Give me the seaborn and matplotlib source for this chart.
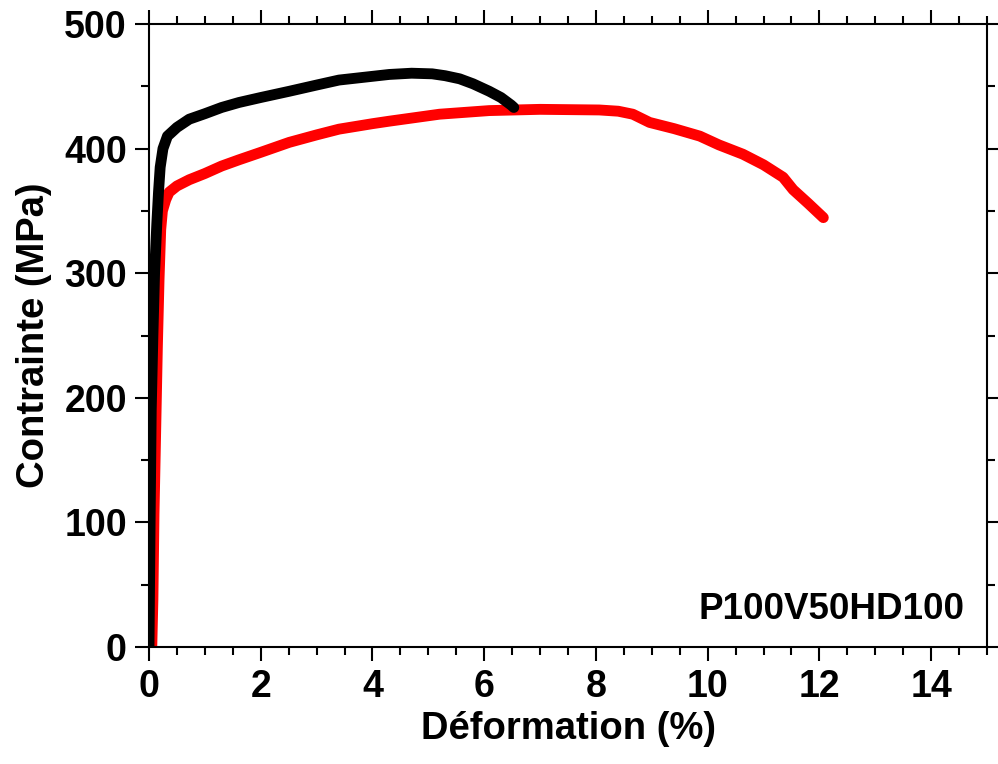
import matplotlib
matplotlib.use("Agg")
import matplotlib.pyplot as plt
import seaborn as sns
import pandas as pd
from matplotlib.ticker import MultipleLocator

# Data
black_x = [0.0, 0.02, 0.04, 0.07, 0.10, 0.14, 0.17, 0.20, 0.25, 0.33, 0.50, 0.72, 1.00,
           1.30, 1.61, 2.00, 2.51, 3.00, 3.40, 4.00, 4.30, 4.70, 5.07, 5.30, 5.56, 5.80,
           6.09, 6.30, 6.48, 6.53]
black_y = [0, 100, 190, 250, 300, 340, 365, 385, 400, 410, 417, 423.6, 428,
           433, 437, 441, 446, 451, 455, 458, 459.5, 460.5, 460, 458.5, 456, 452,
           446, 441, 435, 433]

red_x = [0.05, 0.07, 0.09, 0.12, 0.15, 0.18, 0.21, 0.24, 0.30, 0.36, 0.50, 0.72, 1.00,
         1.30, 1.61, 2.00, 2.51, 3.00, 3.40, 4.00, 4.30, 5.20, 6.09, 7.00, 8.06, 8.40,
         8.66, 8.96, 9.40, 9.86, 10.20, 10.63, 11.00, 11.35, 11.53, 11.80, 12.07]
red_y = [0, 38, 107, 174, 241, 295, 335, 350, 359, 365, 370, 375, 380,
         386, 391, 397, 405, 411, 415.6, 420, 422, 427.6, 430.5, 431.5, 431, 430,
         427.6, 421, 416, 410, 403, 395.5, 387, 377, 367, 356, 344.6]

x_ticks = [0, 2, 4, 6, 8, 10, 12, 14]
y_ticks = [0, 100, 200, 300, 400, 500]
x_label = "Déformation (%)"
y_label = "Contrainte (MPa)"
sample_label = "P100V50HD100"

sns.set_theme(style="white")
plt.rcParams['font.family'] = ['Liberation Sans', 'DejaVu Sans']
plt.rcParams['font.weight'] = 'bold'
plt.rcParams['text.color'] = 'black'
plt.rcParams['axes.labelcolor'] = 'black'
plt.rcParams['xtick.color'] = 'black'
plt.rcParams['ytick.color'] = 'black'

fig = plt.figure(figsize=(9.98, 7.64), dpi=100)
ax = fig.add_axes([0.1493, 0.1531, 0.8397, 0.8155])

df_red = pd.DataFrame({"x": red_x, "y": red_y})
df_black = pd.DataFrame({"x": black_x, "y": black_y})
sns.lineplot(data=df_red, x="x", y="y", ax=ax, color="#ff0000", lw=7.8,
             sort=False, estimator=None, solid_capstyle="round", solid_joinstyle="round")
sns.lineplot(data=df_black, x="x", y="y", ax=ax, color="#000000", lw=7.8,
             sort=False, estimator=None, solid_capstyle="round", solid_joinstyle="round")

ax.set_xlim(0, 15)
ax.set_ylim(0, 500)
ax.set_xticks(x_ticks)
ax.set_yticks(y_ticks)
ax.xaxis.set_minor_locator(MultipleLocator(0.5))
ax.yaxis.set_minor_locator(MultipleLocator(50))

for s in ax.spines.values():
    s.set_visible(True)
    s.set_color("black")
    s.set_linewidth(1.5)

ax.tick_params(which="both", direction="out", top=True, right=True,
               bottom=True, left=True, width=1.5, color="black", labelcolor="black")
ax.tick_params(which="major", length=10, labelsize=27, pad=6)
ax.tick_params(which="minor", length=6)
for lab in ax.get_xticklabels() + ax.get_yticklabels():
    lab.set_fontweight("bold")

ax.set_xlabel(x_label, fontsize=27.5, fontweight="bold", labelpad=4, color="black")
ax.set_ylabel(y_label, fontsize=27.5, fontweight="bold", labelpad=9, color="black")

ax.text(14.6, 30, sample_label, ha="right", va="center", fontsize=26.5,
        fontweight="bold", color="black")

ax.grid(False)
fig.savefig("out.png", dpi=100)
